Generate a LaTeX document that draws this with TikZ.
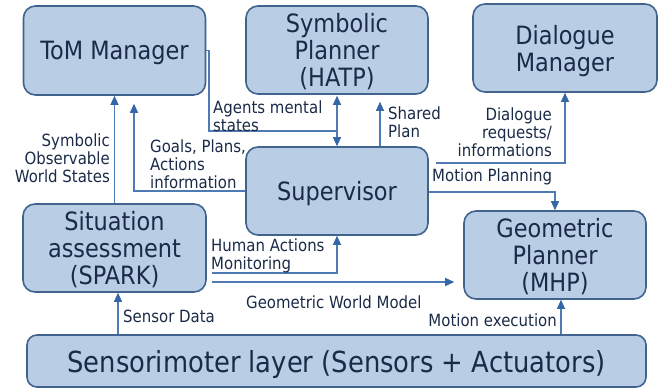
\documentclass[tikz,border=0pt]{standalone}
\usepackage{fontspec}
\setmainfont[FakeStretch=0.89]{DejaVu Sans}
\usetikzlibrary{arrows.meta}
\definecolor{boxfill}{HTML}{B9CDE5}
\definecolor{boxline}{HTML}{41648F}
\definecolor{conn}{HTML}{4F7BB5}
\definecolor{tipc}{HTML}{3566A5}
\definecolor{txt}{HTML}{1A2A47}
\tikzset{
  blk/.style={draw=boxline, line width=1.6pt, fill=boxfill, rounded corners=12pt,
    align=center, text=txt, font=\fontsize{25.2}{27}\selectfont, inner sep=0pt, text depth=-1.5pt},
  lbl/.style={text=txt, font=\fontsize{16.8}{17.8}\selectfont, inner sep=0pt},
  ln/.style={draw=conn, line width=1.1pt},
  arr/.style={ln, -{Triangle[length=9pt,width=8pt,color=tipc]}},
  darr/.style={ln, {Triangle[length=9pt,width=8pt,color=tipc]}-{Triangle[length=9pt,width=8pt,color=tipc]}}
}
\begin{document}
\begin{tikzpicture}[x=1pt,y=-1pt]
\useasboundingbox (0,0) rectangle (662,391);
% boxes
\node[blk, minimum width=182pt, minimum height=89pt] (tom) at (114.5,50.5) {ToM Manager};
\node[blk, minimum width=182pt, minimum height=88pt] (hatp) at (337,50) {Symbolic\\Planner\\(HATP)};
\node[blk, minimum width=184pt, minimum height=88pt] (dlg) at (565,48) {Dialogue\\Manager};
\node[blk, minimum width=182pt, minimum height=88pt] (sup) at (337,191) {Supervisor};
\node[blk, minimum width=183pt, minimum height=88pt] (sa) at (114.5,248) {Situation\\assessment\\(SPARK)};
\node[blk, minimum width=182pt, minimum height=88pt] (gp) at (555,255) {Geometric\\Planner\\(MHP)};
\node[blk, minimum width=619pt, minimum height=52pt, rounded corners=10pt, font=\fontsize{29}{32}\selectfont] (sen) at (336.5,361) {Sensorimoter layer (Sensors + Actuators)};
% coordinates
\coordinate (am) at (209,131);
\coordinate (gw) at ([xshift=5pt,yshift=-34pt]sa.east);
% connectors
\draw[arr] (sa.north) -- (tom.south);
\draw[arr] (sup.west) -| ([xshift=19.5pt,yshift=-8pt]tom.south);
\draw[ln] (tom.east) -| (am) -- (am -| hatp.south);
\draw[darr] ([yshift=-1pt]hatp.south) -- (sup.north);
\draw[arr] ([xshift=43pt]sup.north) -- ([xshift=43pt,yshift=-7pt]hatp.south);
\draw[arr] ([xshift=7pt,yshift=28pt]sup.east) -| (dlg.south);
\draw[arr] ([yshift=-1pt]sup.east) -| (gp.north);
\draw[arr] ([xshift=5pt,yshift=-25pt]sa.east) -| (sup.south);
\draw[arr, shorten >=9pt] (gw) -- (gw -| gp.west);
\draw[arr] ([xshift=3.5pt]sen.north -| sa.south) -- ([xshift=3.5pt]sa.south);
\draw[arr] ([xshift=6pt]sen.north -| gp.south) -- ([xshift=6pt]gp.south);
% labels
\node[lbl, align=right, anchor=east] (l1) at (110,158) {Symbolic\\Observable\\World States};
\node[lbl, align=left, anchor=west] (l2) at (150,164) {Goals, Plans,\\Actions\\information};
\node[lbl, align=left, anchor=west] (l3) at (213,116) {Agents mental\\states};
\node[lbl, align=left, anchor=west] (l4) at (388,122) {Shared\\Plan};
\node[lbl, align=right, anchor=east] (l5) at (552,132) {Dialogue\\requests/\\informations};
\node[lbl, anchor=west] (l6) at (432,177) {Motion Planning};
\node[lbl, align=left, anchor=west] (l7) at (211,256) {Human Actions\\Monitoring};
\node[lbl, anchor=west] (l8) at (246,302) {Geometric World Model};
\node[lbl, anchor=west] (l9) at (123,316) {Sensor Data};
\node[lbl, anchor=east] (l10) at (557,320) {Motion execution};
\end{tikzpicture}
\end{document}
